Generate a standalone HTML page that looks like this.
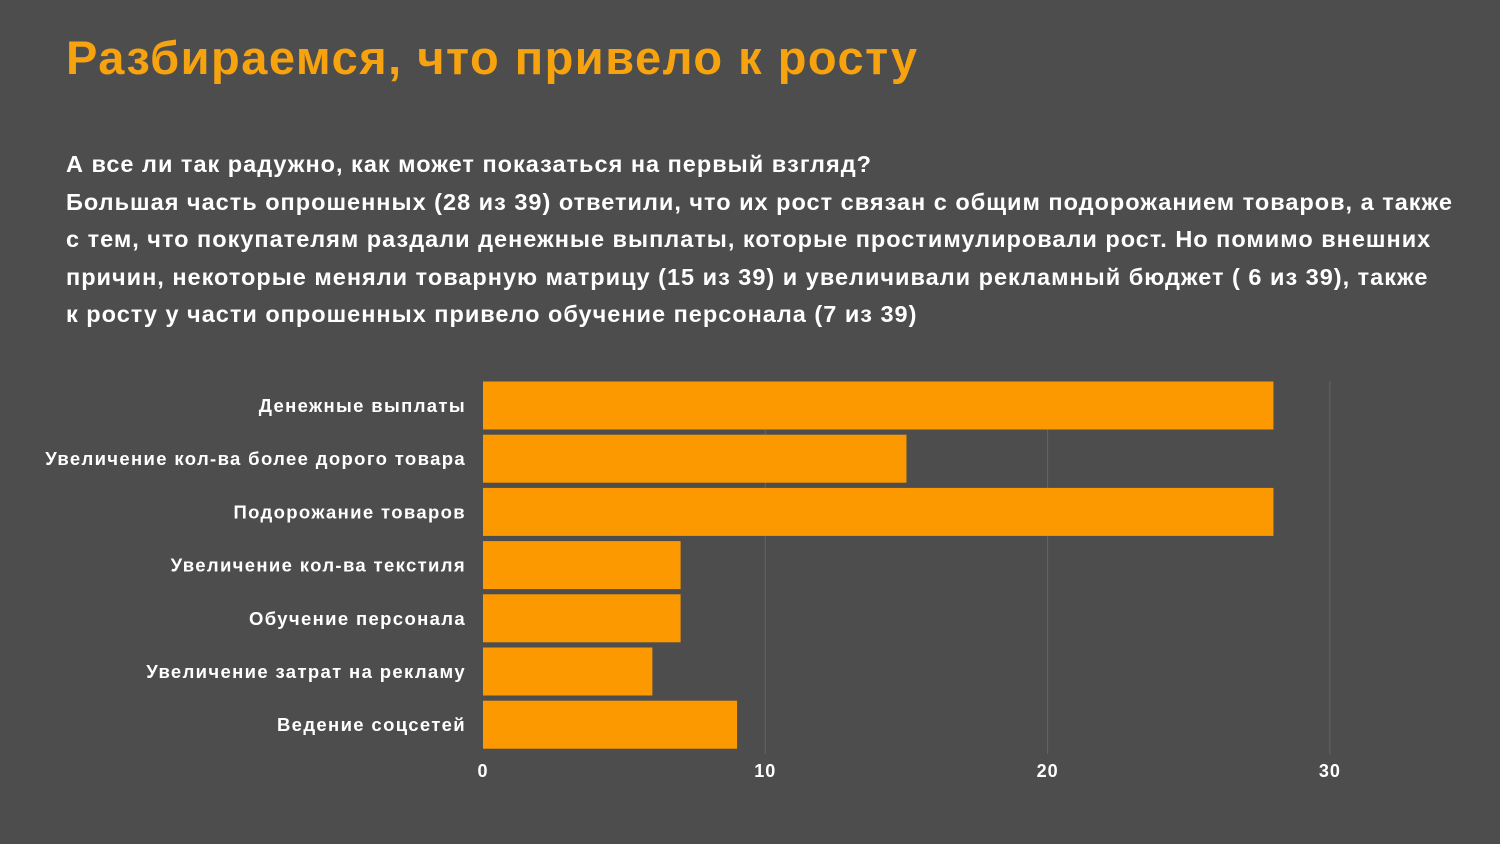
<!DOCTYPE html>
<html><head><meta charset="utf-8"><style>
body{margin:0;width:1500px;height:844px;background:#4d4d4d;overflow:hidden;font-family:"Liberation Sans","DejaVu Sans",sans-serif;position:relative}
#title{position:absolute;left:66px;top:30px;font-size:47px;font-weight:bold;color:#f7a20f;letter-spacing:1.5px}
#sub{position:absolute;left:66px;top:146px;font-size:23.5px;font-weight:bold;color:#fff;line-height:37.5px;letter-spacing:1.0px;white-space:nowrap}
svg{position:absolute;left:0;top:0}
</style></head><body>
<div id="title">Разбираемся, что привело к росту</div>
<div id="sub">А все ли так радужно, как может показаться на первый взгляд?<br>Большая часть опрошенных (28 из 39) ответили, что их рост связан с общим подорожанием товаров, а также<br>с тем, что покупателям раздали денежные выплаты, которые простимулировали рост. Но помимо внешних<br>причин, некоторые меняли товарную матрицу (15 из 39) и увеличивали рекламный бюджет ( 6 из 39), также<br>к росту у части опрошенных привело обучение персонала (7 из 39)</div>
<svg id="chart" width="1500" height="844"></svg>
<script>
const categories=["Денежные выплаты","Увеличение кол-ва более дорого товара","Подорожание товаров","Увеличение кол-ва текстиля","Обучение персонала","Увеличение затрат на рекламу","Ведение соцсетей"];
const values=[28,15,28,7,7,6,9];
const ticks=[0,10,20,30];
const svg=document.getElementById('chart');
const NS='http://www.w3.org/2000/svg';
const x0=483,scale=28.23,top0=381.5,pitch=53.2,bh=48;
const xs=v=>x0+v*scale;
function mk(t,a){const e=document.createElementNS(NS,t);for(const k in a)e.setAttribute(k,a[k]);svg.appendChild(e);return e;}
ticks.forEach(t=>{
  if(t>0){const g=mk('line',{x1:xs(t),x2:xs(t),y1:top0,y2:top0+pitch*categories.length,stroke:'#666','stroke-width':1});
  
  }
  const l=mk('text',{x:xs(t),y:777,'text-anchor':'middle','font-size':18,'font-weight':'bold',fill:'#fff','letter-spacing':1});
  l.textContent=t;
  
  
});
categories.forEach((c,i)=>{
  const y=top0+i*pitch;
  const r=mk('rect',{x:x0,y:y,width:xs(values[i])-x0,height:bh,fill:'#fd9900'});
  
  
  const t=mk('text',{x:466,y:y+bh/2+6.5,'text-anchor':'end','font-size':18.5,'font-weight':'bold',fill:'#fff','letter-spacing':1.35});
  t.textContent=c;
  
  
});
</script>
</body></html>
